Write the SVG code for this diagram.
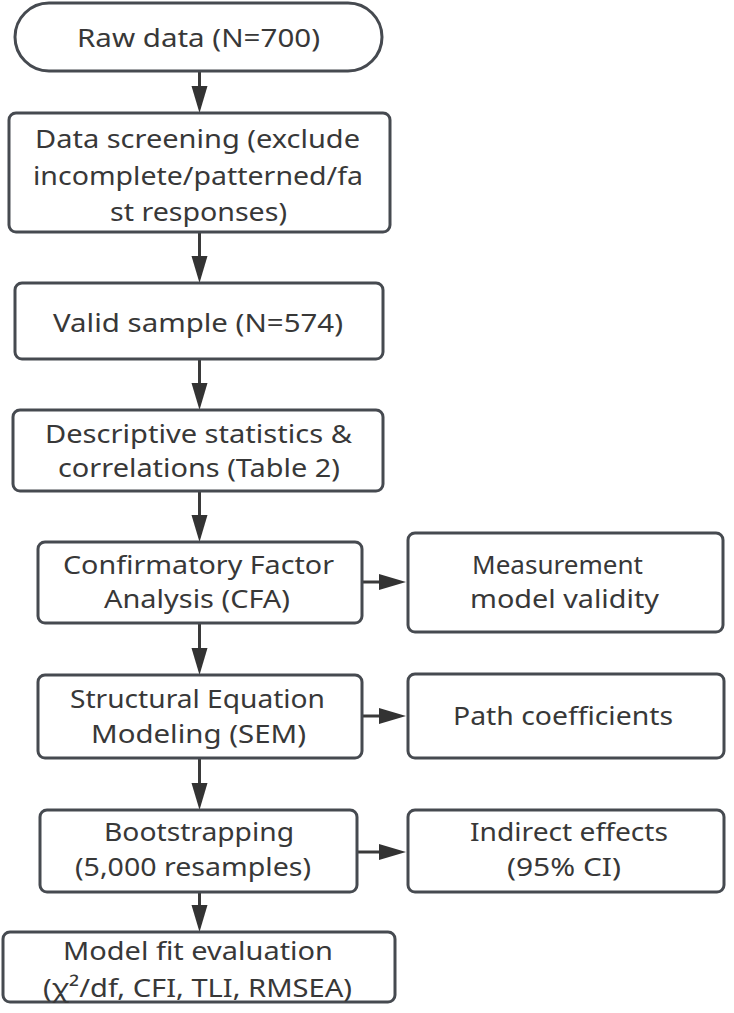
<svg xmlns="http://www.w3.org/2000/svg" width="734" height="1013" viewBox="0 0 734 1013">
<style>
.box{fill:#ffffff;stroke:#464a50;stroke-width:3}
.t{font-family:"Noto Sans","Open Sans","Liberation Sans",sans-serif;font-size:26px;fill:#383838;text-anchor:middle}
.c{stroke:#3a3a3a;stroke-width:3;fill:none;marker-end:url(#ah)}
</style>
<defs>
<marker id="ah" markerUnits="userSpaceOnUse" markerWidth="28" markerHeight="18" refX="7" refY="8" orient="auto" viewBox="0 0 28 18">
<path d="M0,0 L27,8 L0,16 Z" fill="#333333"/>
</marker>
</defs>
<rect width="734" height="1013" fill="#ffffff"/>
<g id="connectors">
<line class="c" x1="199.5" y1="71" x2="199.5" y2="93"/>
<line class="c" x1="199.5" y1="232" x2="199.5" y2="263"/>
<line class="c" x1="199.5" y1="359" x2="199.5" y2="390"/>
<line class="c" x1="199.5" y1="491" x2="199.5" y2="522"/>
<line class="c" x1="199.5" y1="623" x2="199.5" y2="655"/>
<line class="c" x1="199.5" y1="758" x2="199.5" y2="790"/>
<line class="c" x1="199.5" y1="892" x2="199.5" y2="912"/>
<line class="c" x1="362" y1="582" x2="386" y2="582"/>
<line class="c" x1="362" y1="716" x2="386" y2="716"/>
<line class="c" x1="357" y1="852" x2="386" y2="852"/>
</g>
<g id="raw">
<rect class="box" x="15" y="3" width="367" height="68" rx="34"/>
<text class="t" x="198.5" y="47" textLength="243" lengthAdjust="spacingAndGlyphs">Raw data (N=700)</text>
</g>
<g id="screening">
<rect class="box" x="9" y="113" width="381" height="119" rx="7"/>
<text class="t" x="197.5" y="148" textLength="325" lengthAdjust="spacingAndGlyphs">Data screening (exclude</text>
<text class="t" x="198" y="185" textLength="330" lengthAdjust="spacingAndGlyphs">incomplete/patterned/fa</text>
<text class="t" x="198.5" y="221" textLength="177" lengthAdjust="spacingAndGlyphs">st responses)</text>
</g>
<g id="valid">
<rect class="box" x="15" y="283" width="368" height="76" rx="7"/>
<text class="t" x="198" y="332" textLength="290" lengthAdjust="spacingAndGlyphs">Valid sample (N=574)</text>
</g>
<g id="descriptive">
<rect class="box" x="13" y="410" width="370" height="81" rx="7"/>
<text class="t" x="198.5" y="443" textLength="307" lengthAdjust="spacingAndGlyphs">Descriptive statistics &amp;</text>
<text class="t" x="199" y="477" textLength="282" lengthAdjust="spacingAndGlyphs">correlations (Table 2)</text>
</g>
<g id="cfa">
<rect class="box" x="38" y="542" width="324" height="81" rx="7"/>
<text class="t" x="198.5" y="574" textLength="271" lengthAdjust="spacingAndGlyphs">Confirmatory Factor</text>
<text class="t" x="197" y="608" textLength="186" lengthAdjust="spacingAndGlyphs">Analysis (CFA)</text>
</g>
<g id="measurement">
<rect class="box" x="408" y="533" width="315" height="99" rx="7"/>
<text class="t" x="557.5" y="574" textLength="171" lengthAdjust="spacingAndGlyphs">Measurement</text>
<text class="t" x="564.5" y="608" textLength="189" lengthAdjust="spacingAndGlyphs">model validity</text>
</g>
<g id="sem">
<rect class="box" x="38" y="675" width="324" height="83" rx="7"/>
<text class="t" x="197.5" y="708" textLength="255" lengthAdjust="spacingAndGlyphs">Structural Equation</text>
<text class="t" x="198.5" y="743" textLength="215" lengthAdjust="spacingAndGlyphs">Modeling (SEM)</text>
</g>
<g id="path">
<rect class="box" x="408" y="674" width="316" height="84" rx="7"/>
<text class="t" x="563" y="725" textLength="220" lengthAdjust="spacingAndGlyphs">Path coefficients</text>
</g>
<g id="bootstrap">
<rect class="box" x="40" y="810" width="317" height="82" rx="7"/>
<text class="t" x="199" y="841" textLength="190" lengthAdjust="spacingAndGlyphs">Bootstrapping</text>
<text class="t" x="193" y="876" textLength="236" lengthAdjust="spacingAndGlyphs">(5,000 resamples)</text>
</g>
<g id="indirect">
<rect class="box" x="408" y="810" width="316" height="82" rx="7"/>
<text class="t" x="569" y="841" textLength="198" lengthAdjust="spacingAndGlyphs">Indirect effects</text>
<text class="t" x="564" y="876" textLength="114" lengthAdjust="spacingAndGlyphs">(95% CI)</text>
</g>
<g id="modelfit">
<rect class="box" x="3" y="932" width="392" height="70" rx="7"/>
<text class="t" x="198" y="960" textLength="270" lengthAdjust="spacingAndGlyphs">Model fit evaluation</text>
<text class="t" x="197.5" y="997" textLength="309" lengthAdjust="spacingAndGlyphs">(χ²/df, CFI, TLI, RMSEA)</text>
</g>
</svg>
